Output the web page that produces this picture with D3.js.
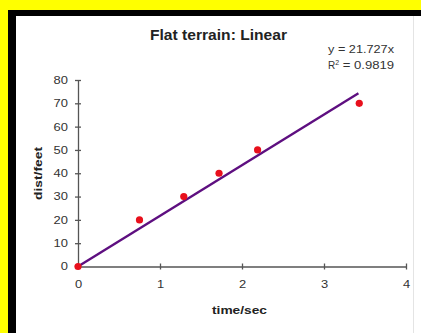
<!DOCTYPE html>
<html>
<head>
<meta charset="utf-8">
<script src="https://cdn.jsdelivr.net/npm/d3@7"></script>
<style>
body{margin:0;background:#ffff00;}
svg{display:block;}
text{font-family:Arial,"Liberation Sans",sans-serif;}
</style>
</head>
<body>
<svg class="plot"></svg>
<script>
var timeSec=[0,0.75,1.29,1.72,2.19,3.43];
var distFeet=[0,20,30,40,50,70];
var xTicks=[0,1,2,3,4];
var yTicks=[0,10,20,30,40,50,60,70,80];
var slope=21.727;
var trendEnd=3.42;

var screen=
{
  width:421,
  height:333
};
var svg=d3.select("svg.plot")
          .attr("width",screen.width)
          .attr("height",screen.height);

// black frame and white chart area
svg.append("rect")
   .attr("x",8).attr("y",10)
   .attr("width",screen.width-8).attr("height",screen.height-10)
   .attr("fill","#000");
svg.append("rect")
   .attr("x",16).attr("y",16)
   .attr("width",screen.width-16).attr("height",screen.height-16)
   .attr("fill","#fff");
svg.append("line")
   .attr("x1",413.5).attr("x2",413.5).attr("y1",16).attr("y2",screen.height)
   .attr("stroke","#e4e4e4");

var xscale=d3.scaleLinear()
             .domain([0,4])
             .range([78,406]);
var yscale=d3.scaleLinear()
             .domain([0,80])
             .range([266.5,80]);

var xAxis=d3.axisBottom(xscale).tickValues(xTicks).tickFormat(d3.format("d")).tickSize(0).tickPadding(14);
var gx=svg.append("g")
   .attr("transform","translate(0,"+yscale(0)+")")
   .call(xAxis);
var yAxis=d3.axisLeft(yscale).tickValues(yTicks).tickFormat(d3.format("d")).tickSize(0).tickPadding(10);
var gy=svg.append("g")
   .attr("transform","translate("+xscale(0)+",0)")
   .call(yAxis);

[gx,gy].forEach(function(g){
  g.select(".domain").attr("stroke","#555").attr("stroke-width",1.3);
  g.selectAll("text")
   .attr("font-size",10.5).attr("fill","#333")
   .attr("font-family","Arial,'Liberation Sans',sans-serif")
   .attr("textLength",function(d){return String(d).length*7.2;})
   .attr("lengthAdjust","spacingAndGlyphs");
});
gx.selectAll(".tick").append("line")
  .attr("y1",-3).attr("y2",3).attr("stroke","#555").attr("stroke-width",1.3);
gy.selectAll(".tick").append("line")
  .attr("x1",-3).attr("x2",3).attr("stroke","#555").attr("stroke-width",1.3);

// trend line
svg.append("line")
   .attr("x1",xscale(0)).attr("y1",yscale(0))
   .attr("x2",xscale(trendEnd)).attr("y2",yscale(slope*trendEnd))
   .attr("stroke","#5e0f80")
   .attr("stroke-width",2.4);

svg.selectAll("circle.pt")
   .data(timeSec)
   .enter()
   .append("circle")
   .classed("pt",true)
   .attr("cx",function(d){return xscale(d);})
   .attr("cy",function(d,i){return yscale(distFeet[i]);})
   .attr("r",3.6)
   .attr("fill","#e8101c");

svg.append("text")
   .attr("x",150).attr("y",40)
   .attr("font-size",14).attr("font-weight","bold").attr("fill","#222")
   .attr("textLength",137).attr("lengthAdjust","spacingAndGlyphs")
   .text("Flat terrain: Linear");

svg.append("text")
   .attr("x",328).attr("y",52.5)
   .attr("font-size",10).attr("fill","#333")
   .attr("textLength",66).attr("lengthAdjust","spacingAndGlyphs")
   .text("y = 21.727x");
var r2=svg.append("text")
   .attr("x",328).attr("y",68.5)
   .attr("font-size",10).attr("fill","#333");
r2.append("tspan").text("R");
r2.append("tspan").attr("dy",-4).attr("font-size",7).text("2");
r2.append("tspan").attr("dy",4).attr("textLength",55).attr("lengthAdjust","spacingAndGlyphs").text(" = 0.9819");

svg.append("text")
   .attr("x",212).attr("y",314)
   .attr("font-size",11.5).attr("font-weight","bold").attr("fill","#222")
   .attr("textLength",55).attr("lengthAdjust","spacingAndGlyphs")
   .text("time/sec");
svg.append("text")
   .attr("transform","translate(42,200) rotate(-90)")
   .attr("font-size",11.5).attr("font-weight","bold").attr("fill","#222")
   .attr("textLength",53).attr("lengthAdjust","spacingAndGlyphs")
   .text("dist/feet");
</script>
</body>
</html>
